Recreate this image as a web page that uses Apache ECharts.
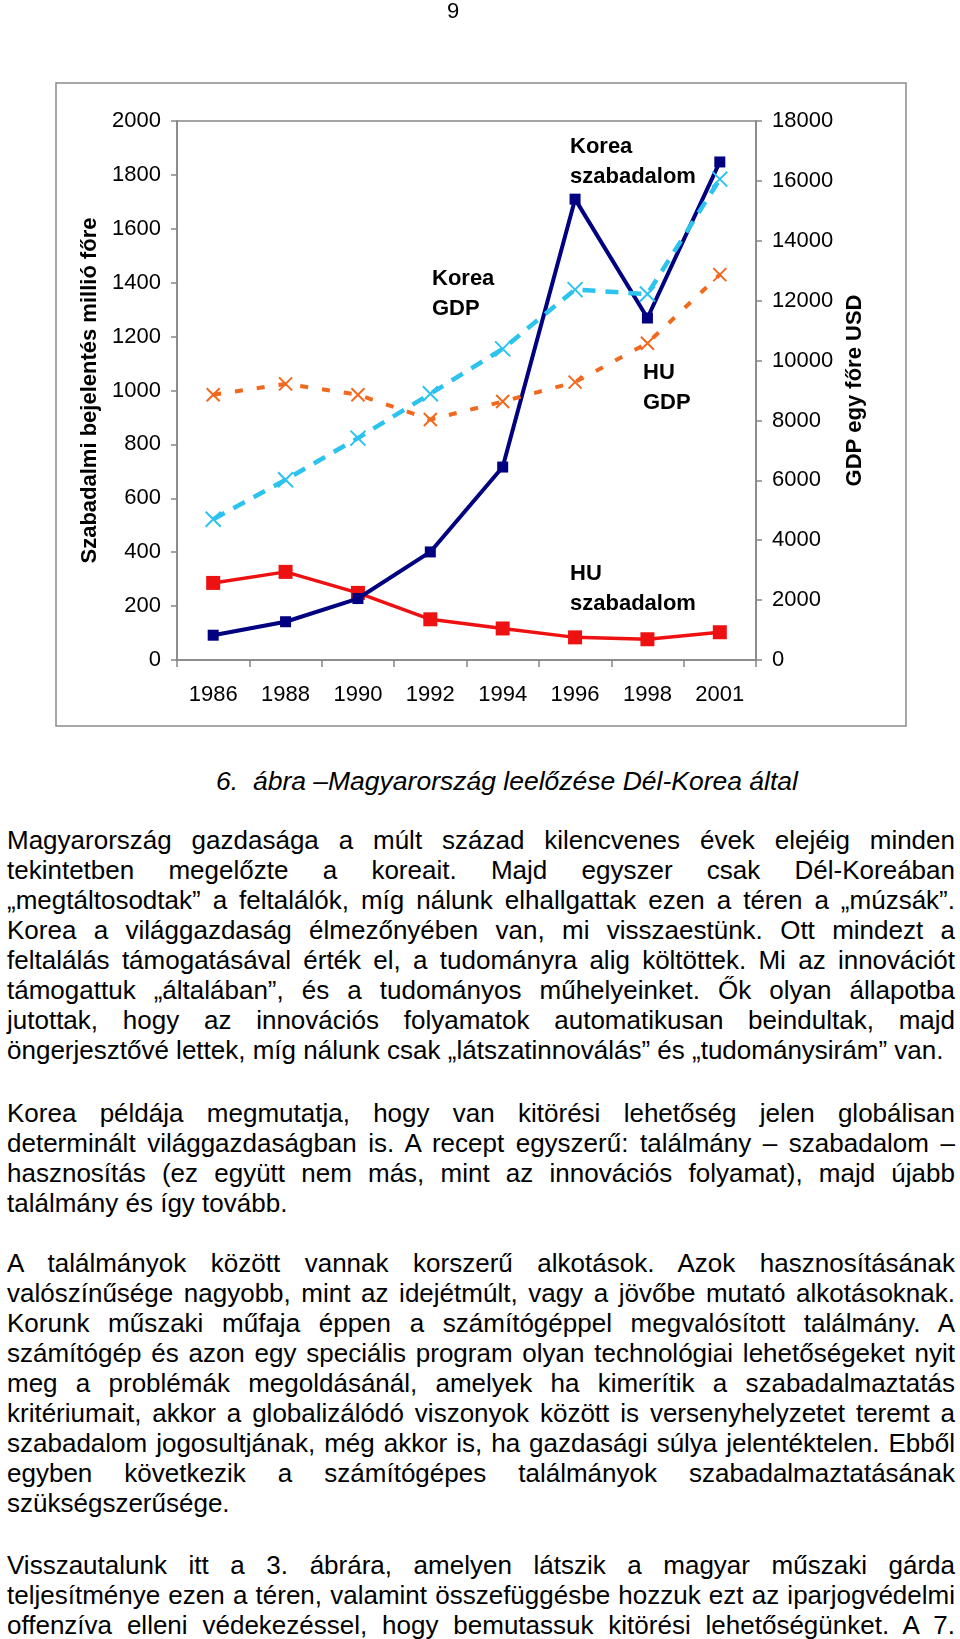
<!DOCTYPE html>
<html>
<head>
<meta charset="utf-8">
<script src="https://cdn.jsdelivr.net/npm/echarts@6/dist/echarts.min.js"></script>
<style>
  html, body { margin: 0; padding: 0; background: #fff; }
  body { width: 960px; height: 1639px; position: relative; overflow: hidden;
         font-family: "Liberation Sans", Arial, sans-serif; color: #000; }
  #chart { position: absolute; left: 0; top: 0; width: 960px; height: 740px; z-index: 1; }
  .pg { position: absolute; left: 433px; top: -2px; width: 40px; text-align: center;
        font-size: 22px; line-height: 26px; z-index: 5; }
  .cap { position: absolute; left: 27px; width: 960px; top: 766px; text-align: center;
         font-size: 26.5px; line-height: 30px; font-style: italic; white-space: pre; z-index: 5; }
  .para { position: absolute; left: 7px; width: 948px; font-size: 26px; line-height: 30px; z-index: 5; }
  .ln { display: block; white-space: nowrap; height: 30px; }
  .ln span { white-space: nowrap; }
</style>
</head>
<body>
<div id="chart"></div>
<div class="pg">9</div>
<div class="cap" id="caption"></div>
<div id="textbox"></div>
<script>
// ---- chart data ----
const years = ['1986', '1988', '1990', '1992', '1994', '1996', '1998', '2001'];
const koreaPatent = [92, 142, 228, 401, 716, 1710, 1269, 1848];
const huPatent = [286, 327, 249, 151, 117, 84, 77, 103];
const koreaGDP = [4700, 6020, 7410, 8890, 10390, 12370, 12220, 16060];
const huGDP = [8860, 9220, 8860, 8030, 8630, 9280, 10580, 12870];
const leftTicks = { min: 0, max: 2000, interval: 200 };
const rightTicks = { min: 0, max: 18000, interval: 2000 };
const leftName = 'Szabadalmi bejelentés millió főre';
const rightName = 'GDP egy főre USD';
const annotations = [
  { text: 'Korea\nszabadalom', left: 570, top: 132 },
  { text: 'Korea\nGDP', left: 432, top: 264 },
  { text: 'HU\nGDP', left: 643, top: 358 },
  { text: 'HU\nszabadalom', left: 570, top: 559 }
];

// ---- page text ----
const captionText = '6.  ábra –Magyarország leelőzése Dél-Korea által';
const paragraphs = [
  { top: 825, lines: [
    'Magyarország gazdasága a múlt század kilencvenes évek elejéig minden',
    'tekintetben megelőzte a koreait. Majd egyszer csak Dél-Koreában',
    '„megtáltosodtak” a feltalálók, míg nálunk elhallgattak ezen a téren a „múzsák”.',
    'Korea a világgazdaság élmezőnyében van, mi visszaestünk. Ott mindezt a',
    'feltalálás támogatásával érték el, a tudományra alig költöttek. Mi az innovációt',
    'támogattuk „általában”, és a tudományos műhelyeinket. Ők olyan állapotba',
    'jutottak, hogy az innovációs folyamatok automatikusan beindultak, majd',
    'öngerjesztővé lettek, míg nálunk csak „látszatinnoválás” és „tudománysirám” van.'
  ], lastJustified: false },
  { top: 1098, lines: [
    'Korea példája megmutatja, hogy van kitörési lehetőség jelen globálisan',
    'determinált világgazdaságban is. A recept egyszerű: találmány – szabadalom –',
    'hasznosítás (ez együtt nem más, mint az innovációs folyamat), majd újabb',
    'találmány és így tovább.'
  ], lastJustified: false },
  { top: 1248, lines: [
    'A találmányok között vannak korszerű alkotások. Azok hasznosításának',
    'valószínűsége nagyobb, mint az idejétmúlt, vagy a jövőbe mutató alkotásoknak.',
    'Korunk műszaki műfaja éppen a számítógéppel megvalósított találmány. A',
    'számítógép és azon egy speciális program olyan technológiai lehetőségeket nyit',
    'meg a problémák megoldásánál, amelyek ha kimerítik a szabadalmaztatás',
    'kritériumait, akkor a globalizálódó viszonyok között is versenyhelyzetet teremt a',
    'szabadalom jogosultjának, még akkor is, ha gazdasági súlya jelentéktelen. Ebből',
    'egyben következik a számítógépes találmányok szabadalmaztatásának',
    'szükségszerűsége.'
  ], lastJustified: false },
  { top: 1550, lines: [
    'Visszautalunk itt a 3. ábrára, amelyen látszik a magyar műszaki gárda',
    'teljesítménye ezen a téren, valamint összefüggésbe hozzuk ezt az iparjogvédelmi',
    'offenzíva elleni védekezéssel, hogy bemutassuk kitörési lehetőségünket. A 7.'
  ], lastJustified: true }
];

// build text
document.getElementById('caption').textContent = captionText;
const box = document.getElementById('textbox');
const LINE_W = 948;
paragraphs.forEach(p => {
  const d = document.createElement('div');
  d.className = 'para';
  d.style.top = p.top + 'px';
  p.lines.forEach((t, i) => {
    const ln = document.createElement('div');
    ln.className = 'ln';
    const sp = document.createElement('span');
    sp.textContent = t;
    ln.appendChild(sp);
    d.appendChild(ln);
    ln._just = (i < p.lines.length - 1) || p.lastJustified;
  });
  box.appendChild(d);
});
document.querySelectorAll('.ln').forEach(ln => {
  const sp = ln.firstChild;
  const w = sp.getBoundingClientRect().width;
  const spaces = (sp.textContent.match(/ /g) || []).length;
  if (ln._just && spaces > 0) {
    sp.style.wordSpacing = ((LINE_W - w) / spaces) + 'px';
  } else if (w > LINE_W) {
    sp.style.display = 'inline-block';
    sp.style.transformOrigin = 'left center';
    sp.style.transform = 'scaleX(' + (LINE_W / w) + ')';
  }
});

// ---- chart ----
const chart = echarts.init(document.getElementById('chart'), null, { renderer: 'canvas' });
const FONT = '"Liberation Sans", Arial, sans-serif';
const GREY = '#868686';
const xPath = 'path://M0,0L10,10M10,0L0,10';

function axisY(t, name, nameGap, labelMargin, tickLen) {
  return {
    type: 'value', min: t.min, max: t.max, interval: t.interval,
    name: name, nameLocation: 'middle', nameGap: nameGap, nameRotate: 90,
    nameTextStyle: { fontFamily: FONT, fontSize: 22, fontWeight: 'bold', color: '#000' },
    axisLine: { show: true, lineStyle: { color: GREY, width: 1.5 } },
    axisTick: { show: true, length: tickLen, inside: false, lineStyle: { color: GREY, width: 1.5 } },
    axisLabel: { fontFamily: FONT, fontSize: 22, color: '#000', margin: labelMargin,
                 formatter: v => String(v) },
    splitLine: { show: false }
  };
}

const option = {
  animation: false,
  backgroundColor: 'transparent',
  grid: { left: 177, right: 204, top: 121, bottom: 80, show: true,
          borderColor: GREY, borderWidth: 1.5, backgroundColor: 'transparent' },
  xAxis: {
    type: 'category', data: years, boundaryGap: true,
    axisLine: { show: true, lineStyle: { color: GREY, width: 1.5 } },
    axisTick: { show: true, length: 7, interval: 0, lineStyle: { color: GREY, width: 1.5 } },
    axisLabel: { fontFamily: FONT, fontSize: 22, color: '#000', margin: 24, interval: 0 }
  },
  yAxis: [
    axisY(leftTicks, leftName, 71, 16, 6),
    axisY(rightTicks, rightName, 87, 16, 6)
  ],
  graphic: [
    { type: 'rect', shape: { x: 56, y: 83, width: 850, height: 643 },
      style: { fill: 'none', stroke: '#8a8a8a', lineWidth: 1.5 }, silent: true, z: 0 }
  ].concat(annotations.map(a => ({
    type: 'text', left: a.left, top: a.top, silent: true, z: 100,
    style: { text: a.text, fontFamily: FONT, fontSize: 22, fontWeight: 'bold',
             lineHeight: 30, fill: '#000' }
  }))),
  series: [
    { name: 'HU szabadalom', type: 'line', yAxisIndex: 0, data: huPatent,
      symbol: 'rect', symbolSize: 14, showSymbol: true,
      lineStyle: { color: '#EE1111', width: 3.5 },
      itemStyle: { color: '#EE1111' }, emphasis: { disabled: true }, z: 2 },
    { name: 'Korea szabadalom', type: 'line', yAxisIndex: 0, data: koreaPatent,
      symbol: 'rect', symbolSize: 11, showSymbol: true,
      lineStyle: { color: '#000080', width: 4 },
      itemStyle: { color: '#000080' }, emphasis: { disabled: true }, z: 3 },
    { name: 'HU GDP', type: 'line', yAxisIndex: 1, data: huGDP,
      symbol: xPath, symbolSize: 13, showSymbol: true,
      lineStyle: { color: '#F2691E', width: 4, type: [8, 14] },
      itemStyle: { color: '#F2691E', borderColor: '#F2691E', borderWidth: 2 },
      emphasis: { disabled: true }, z: 4 },
    { name: 'Korea GDP', type: 'line', yAxisIndex: 1, data: koreaGDP,
      symbol: xPath, symbolSize: 15, showSymbol: true,
      lineStyle: { color: '#2CC3EE', width: 4.5, type: [13, 10] },
      itemStyle: { color: '#2CC3EE', borderColor: '#2CC3EE', borderWidth: 2 },
      emphasis: { disabled: true }, z: 5 }
  ]
};
chart.setOption(option);
</script>
</body>
</html>
